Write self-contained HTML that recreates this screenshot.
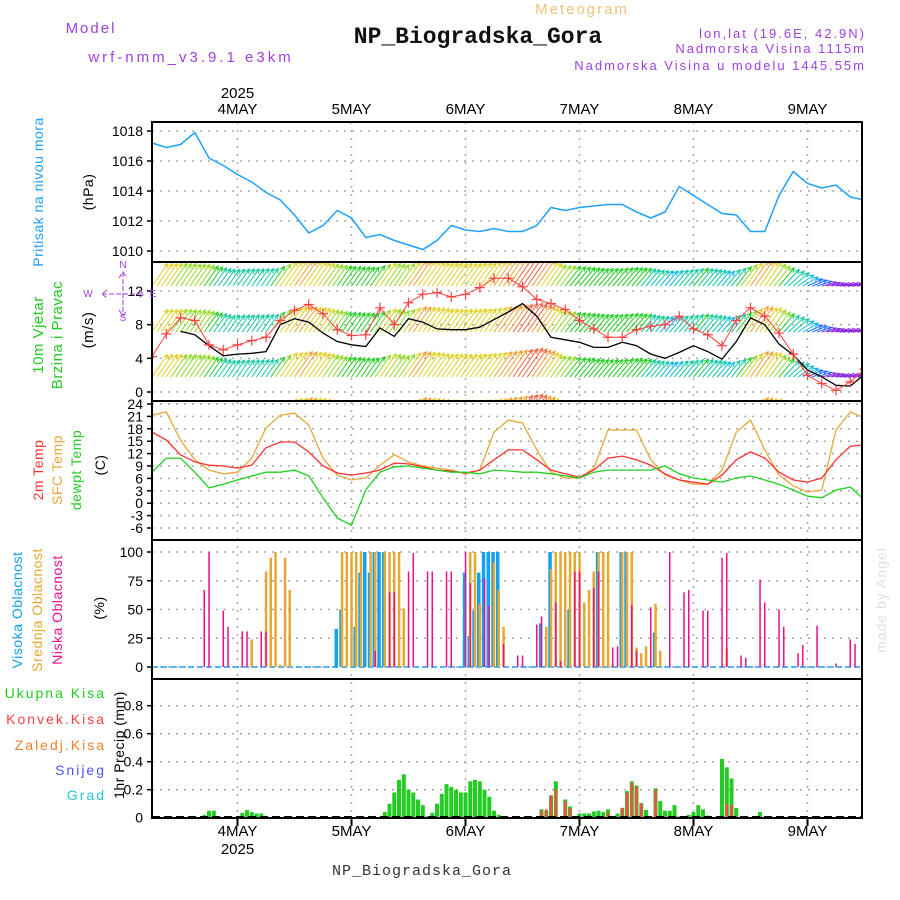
<!DOCTYPE html>
<html><head><meta charset="utf-8">
<style>
body{margin:0;background:#fff;}
svg{display:block;font-family:"Liberation Sans",sans-serif;}
</style></head>
<body>
<svg id="chart" width="900" height="900" viewBox="0 0 900 900">
<text x="582" y="14" font-size="15" fill="#f2c27a" text-anchor="middle" letter-spacing="2">Meteogram</text>
<text x="478" y="43" font-size="23" font-weight="bold" font-family="Liberation Mono, monospace" text-anchor="middle" fill="#111">NP_Biogradska_Gora</text>
<text x="91" y="33" font-size="15" fill="#a040e0" text-anchor="middle" letter-spacing="2">Model</text>
<text x="191" y="62" font-size="15" fill="#a040e0" text-anchor="middle" letter-spacing="3">wrf-nmm_v3.9.1 e3km</text>
<text x="866" y="38" font-size="13" fill="#a040e0" text-anchor="end" letter-spacing="2">lon,lat (19.6E, 42.9N)</text>
<text x="866" y="53" font-size="13" fill="#a040e0" text-anchor="end" letter-spacing="2">Nadmorska Visina 1115m</text>
<text x="866" y="70" font-size="13" fill="#a040e0" text-anchor="end" letter-spacing="2">Nadmorska Visina u modelu 1445.55m</text>
<text x="422" y="875" font-size="15" font-family="Liberation Mono, monospace" fill="#333" text-anchor="middle" letter-spacing="1">NP_Biogradska_Gora</text>
<text transform="translate(886,600) rotate(-90)" font-size="14" fill="#d8e4dc" text-anchor="middle" letter-spacing="1">made by Angel</text>
<g id="plots"></g>
</svg>
<script>
// ---- data (3-hourly from 3 May 06Z) ----
const pressure=[1017.2,1016.9,1017.1,1017.9,1016.2,1015.7,1015.1,1014.6,1013.9,1013.4,1012.4,1011.2,1011.7,1012.7,1012.2,1010.9,1011.1,1010.7,1010.4,1010.1,1010.7,1011.7,1011.4,1011.3,1011.5,1011.3,1011.3,1011.7,1012.9,1012.7,1012.9,1013.0,1013.1,1013.1,1012.6,1012.2,1012.6,1014.3,1013.7,1013.1,1012.5,1012.4,1011.3,1011.3,1013.7,1015.3,1014.5,1014.2,1014.4,1013.6,1013.4];
const windSpeed=[7.3,7.3,7.2,6.8,5.5,4.3,4.5,4.6,4.8,8.0,8.7,8.3,7.0,6.0,5.6,5.4,7.6,6.6,8.7,8.3,7.5,7.4,7.4,7.7,8.6,9.5,10.5,9.0,6.5,6.2,5.9,5.3,5.3,5.9,5.5,4.5,4.0,4.7,5.5,4.8,3.9,6.0,8.8,8.0,5.7,4.4,2.6,1.8,0.8,0.7,2.1];
const windGust=[4.2,6.9,8.8,8.5,5.6,5.0,5.6,6.1,6.5,8.5,9.7,10.4,9.3,7.4,6.7,6.8,10.0,8.0,10.6,11.6,11.8,11.3,11.6,12.4,13.5,13.5,12.5,11.0,10.5,9.8,8.5,7.5,6.5,6.5,7.4,7.8,8.0,9.0,7.5,6.8,5.5,8.5,10.0,9.0,7.0,4.5,2.0,1.0,0.2,1.2,2.7];
const windDir=[55,55,55,55,55,55,55,55,55,55,55,55,55,55,55,55,55,55,55,55,55,55,55,55,55,55,55,55,55,52,50,50,50,50,50,50,50,50,50,50,50,52,55,55,50,40,25,15,10,12,15];
const temp2m=[17.2,15.3,11.7,10.0,9.2,9.0,8.5,9.2,13.4,14.8,14.8,12.4,9.0,7.3,6.8,7.3,8.0,9.7,9.5,8.8,8.0,7.8,7.3,8.0,10.5,12.9,12.9,10.5,8.0,7.1,6.3,8.0,10.9,11.4,10.5,9.2,7.1,5.6,5.1,4.6,6.8,10.5,12.4,10.9,7.5,5.6,5.1,6.1,10.5,13.8,14.1];
const tempSfc=[21.3,22.1,15.3,10.5,8.0,7.1,7.5,10.9,18.2,21.3,21.8,18.9,10.9,6.8,5.6,6.1,9.2,11.7,10.0,9.0,8.5,8.0,7.1,8.0,17.2,20.1,19.4,12.9,7.5,6.1,6.1,8.5,17.7,17.7,17.7,10.5,6.8,5.6,4.6,4.6,8.0,17.2,20.1,12.9,6.8,4.2,2.7,3.2,17.7,22.1,20.6];
const dewpoint=[7.5,10.9,10.9,7.5,3.7,4.6,5.6,6.6,7.5,7.5,8.0,6.6,1.3,-3.6,-5.3,3.2,7.5,8.8,9.0,8.5,8.0,7.5,7.5,7.1,8.0,7.8,7.5,7.5,7.1,6.6,6.1,7.5,8.0,8.0,8.0,8.0,9.0,7.1,6.1,5.6,5.1,6.1,6.6,5.6,4.6,3.2,1.7,1.3,3.2,3.9,0.8];
// cloud cover (hour index, percent)
const lowHours=[11,12,15,16,19,20,23,24,47,50,51,54,55,58,59,62,63,66,67,70,71,74,77,78,81,82,85,86,89,90,93,94,97,98,101,102,105,109,112,113,116,117,120,121,124,125,128,129,132,133,136,137,140,144,147,148];
const lowVals=[67,100,49,35,31,31,31,31,14,65,65,83,99,83,83,83,83,100,73,77,53,20,10,10,37,44,56,5,83,83,69,83,17,18,54,14,52,100,65,67,49,49,95,99,10,8,76,56,50,35,12,19,36,3,24,20];
const midHours=[21,24,25,26,27,28,29,40,41,42,43,44,46,47,49,50,51,52,53,67,68,69,72,73,74,83,84,85,86,87,88,89,90,91,92,93,94,95,96,97,99,100,101,102,103,104,106,107,121];
const midVals=[24,83,95,100,2,95,67,100,100,100,100,100,100,100,100,100,100,100,51,100,100,55,91,67,35,35,85,100,100,100,100,100,100,56,67,83,100,100,100,2,100,100,100,17,12,18,55,14,16];
const highHours=[39,40,43,44,45,46,47,48,49,66,67,68,69,70,71,72,73,82,84,88,94,99,100,106];
const highVals=[33,50,35,82,100,82,100,100,100,82,27,49,82,100,100,100,100,38,100,50,100,100,100,30];
// precipitation (hour index, mm)
const precipHours=[11,12,13,14,19,20,21,22,23,24,49,50,51,52,53,54,55,56,57,58,59,60,61,62,63,64,65,66,67,68,69,70,71,72,73,82,83,84,85,87,88,89,90,91,92,93,94,95,96,97,98,99,100,101,102,103,104,106,107,108,109,110,111,113,114,115,116,117,120,121,122,123,128,140];
const precipTotal=[0.02,0.05,0.05,0.01,0.035,0.055,0.04,0.03,0.03,0.01,0.04,0.1,0.18,0.27,0.31,0.2,0.18,0.13,0.09,0.01,0.035,0.1,0.17,0.24,0.22,0.2,0.18,0.18,0.26,0.27,0.26,0.2,0.15,0.05,0.02,0.06,0.05,0.16,0.26,0.13,0.08,0.01,0.03,0.03,0.03,0.045,0.05,0.04,0.06,0.01,0.03,0.07,0.19,0.26,0.23,0.105,0.055,0.21,0.12,0.05,0.05,0.09,0.01,0.02,0.04,0.09,0.06,0.015,0.42,0.36,0.28,0.07,0.04,0.01];
const precipConv=[0,0,0,0,0,0,0,0,0,0,0,0,0,0,0,0,0,0,0,0,0,0,0,0,0,0,0,0,0,0,0,0,0,0,0,0.05,0.06,0.16,0.2,0.12,0.07,0,0,0,0,0,0,0,0.04,0,0,0.07,0.18,0.25,0.22,0.1,0,0.2,0.01,0.01,0,0,0,0,0,0,0,0,0,0.1,0.09,0.01,0,0];
const dayLabels=["4MAY","5MAY","6MAY","7MAY","8MAY","9MAY"];
const dayHours=[18,42,66,90,114,138];
const pTicks=[1010,1012,1014,1016,1018];
const wTicks=[0,4,8,12];
const tTicks=[24,21,18,15,12,9,6,3,0,-3,-6];
const cTicks=[0,25,50,75,100];
const rTicks=[0.2,0.4,0.6,0.8];

const NS="http://www.w3.org/2000/svg";
const root=document.getElementById('plots');
const X0=152,X1=862;
const xH=h=>X0+h*4.75;
const x3=i=>xH(i*3);
const P={p:[122,262],w:[262,401],t:[401,540],c:[540,679],r:[679,818]};
const yP=v=>251-(v-1010)*15;
const yW=v=>392-v*8.42;
const yT=v=>404+(24-v)*4.133;
const yC=v=>667-v*1.15;
const yR=v=>817.7-v*140;
function mk(tag,attrs,parent){const e=document.createElementNS(NS,tag);for(const k in attrs)e.setAttribute(k,attrs[k]);(parent||root).appendChild(e);return e;}
function txt(s,attrs,parent){const e=mk('text',attrs,parent);e.textContent=s;return e;}

const defs=mk('defs',{});
for(const k in P){const cp=mk('clipPath',{id:'clip-'+k},defs);mk('rect',{x:X0,y:P[k][0],width:X1-X0,height:P[k][1]-P[k][0]},cp);}

function hgrid(vals,f,name){for(const v of vals){const g=mk('line',{x1:X0,x2:X1,y1:f(v),y2:f(v),stroke:'#aaa','stroke-width':1.5,'stroke-dasharray':'2,6'});

}}
hgrid(pTicks,yP,'pressure');hgrid(wTicks,yW,'wind');hgrid(tTicks,yT,'temp');hgrid(cTicks,yC,'cloud');hgrid(rTicks,yR,'precip');
for(const h of dayHours){const g=mk('line',{x1:xH(h),x2:xH(h),y1:122,y2:818,stroke:'#aaa','stroke-width':1.5,'stroke-dasharray':'2,6'});

}

function yticks(vals,f,name,fmt){for(const v of vals){const t=txt(fmt?fmt(v):String(v),{x:143,y:f(v)+5,'font-size':14,'text-anchor':'end',fill:'#000'});


const l=mk('line',{x1:X0-5,x2:X0,y1:f(v),y2:f(v),stroke:'#000','stroke-width':1.5});

}}
yticks(pTicks,yP,'pressure');yticks(wTicks,yW,'wind');yticks(tTicks,yT,'temp');yticks(cTicks,yC,'cloud');yticks(rTicks,yR,'precip');
{const t=txt('0',{x:143,y:yR(0)+5,'font-size':14,'text-anchor':'end'});}

function series(arr,xf,yf,color,clip,name,w){let d='';let pen=false;arr.forEach((v,i)=>{if(v==null){pen=false;return;}d+=(pen?'L':'M')+xf(i).toFixed(1)+','+yf(v).toFixed(1);pen=true;});
const p=mk('path',{d:d,fill:'none',stroke:color,'stroke-width':w||1.3,'clip-path':'url(#clip-'+clip+')'});

return p;}
series(pressure,x3,yP,'#1ea0ff','p','pressure-line',1.5);

function spdColor(s){if(s<2)return'#8a2be2';if(s<3)return'#1e6cff';if(s<4.3)return'#10b8e0';if(s<5.3)return'#10c8a0';if(s<6.3)return'#22cc22';if(s<7.3)return'#90d820';if(s<8.5)return'#e0d020';if(s<9.8)return'#f0a030';if(s<11)return'#f06040';return'#ff1080';}
function interp(arr,h){const i=Math.min(Math.floor(h/3),arr.length-2);const f=h/3-i;return arr[i]*(1-f)+arr[i+1]*f;}
const rowBase=[286,332,377,423];
const wg=mk('g',{'clip-path':'url(#clip-w)'});
for(let r=0;r<4;r++){for(let h=0;h<=150;h++){const s=interp(windSpeed,h),a=interp(windDir,h)*Math.PI/180;const L=10+2.4*s;const x=xH(h),y=rowBase[r];const x2=x+L*Math.cos(a),y2=y-L*Math.sin(a);const c=spdColor(s);
const ar=mk('path',{d:`M${x.toFixed(1)},${y}L${x2.toFixed(1)},${y2.toFixed(1)}M${(x2-5*Math.cos(a-0.45)).toFixed(1)},${(y2+5*Math.sin(a-0.45)).toFixed(1)}L${x2.toFixed(1)},${y2.toFixed(1)}L${(x2-5*Math.cos(a+0.45)).toFixed(1)},${(y2+5*Math.sin(a+0.45)).toFixed(1)}`,stroke:c,'stroke-width':1,fill:'none'},wg);

}}
series(windSpeed.map((v,i)=>i<2?null:v),x3,yW,'#000','w','wind-speed-line',1.3);
series(windGust,x3,yW,'#ff4040','w','wind-gust-line',1);
const gg=mk('g',{'clip-path':'url(#clip-w)'});
windGust.forEach((v,i)=>{const x=x3(i),y=yW(v);const m=mk('path',{d:`M${x-5},${y}H${x+5}M${x},${y-5}V${y+5}`,stroke:'#ff4040','stroke-width':1.2},gg);

});

series(tempSfc,x3,yT,'#e8a838','t','sfc-temp-line',1.3);
series(temp2m,x3,yT,'#ff3030','t','temp-2m-line',1.3);
series(dewpoint,x3,yT,'#20d020','t','dewpoint-line',1.3);

function bars(hours,vals,color,w,off,name,yf,clip){const g=mk('g',{'clip-path':'url(#clip-'+clip+')'});hours.forEach((h,i)=>{const x=xH(h)+off,y=yf(vals[i]);const b=mk('rect',{x:(x-w/2).toFixed(1),y:y.toFixed(1),width:w,height:(yf(0)-y).toFixed(1),fill:color},g);

});}
mk('line',{x1:X0,x2:X1,y1:yC(0),y2:yC(0),stroke:'#1ea0ff','stroke-width':1.5,'stroke-dasharray':'6,3'});
bars(highHours,highVals,'#12a0f0',3.5,-1,'high-cloud-bar',yC,'c');
bars(midHours,midVals,'#e6a830',2.5,0,'mid-cloud-bar',yC,'c');
bars(lowHours,lowVals,'#f0108a',1.5,0,'low-cloud-bar',yC,'c');

bars(precipHours,precipTotal,'#22cc22',4,0,'precip-total-bar',yR,'r');
bars(precipHours,precipConv,'#ff4848',2.5,0,'precip-convective-bar',yR,'r');
mk('line',{x1:X0,x2:X1,y1:817,y2:817,stroke:'#000','stroke-width':2,'stroke-dasharray':'8,4'});

for(const k in P){const f=mk('rect',{x:X0,y:P[k][0],width:X1-X0,height:P[k][1]-P[k][0],fill:'none',stroke:'#000','stroke-width':2});

}

dayLabels.forEach((d,i)=>{for(const y of [114,836]){const t=txt(d,{x:xH(dayHours[i]),y:y,'font-size':15,'text-anchor':'middle',fill:'#000'});

}
const tk=mk('line',{x1:xH(dayHours[i]),x2:xH(dayHours[i]),y1:818,y2:826,stroke:'#000','stroke-width':2});

});
for(const y of [98,854]){const t=txt('2025',{x:xH(18),y:y,'font-size':15,'text-anchor':'middle',fill:'#000'});}

function vlab(s,x,y,color,size,name){const t=txt(s,{transform:`translate(${x},${y}) rotate(-90)`,'font-size':size||14,'text-anchor':'middle',fill:color,'letter-spacing':0.5});

}
vlab('Pritisak na nivou mora',43,192,'#1ea0ff',14,'pressure-title');
vlab('(hPa)',93,192,'#000',14,'pressure-unit');
vlab('10m Vjetar',43,335,'#22cc22',15,'wind-title');
vlab('Brzina i Pravac',62,335,'#22cc22',15,'wind-subtitle');
vlab('(m/s)',93,330,'#000',15,'wind-unit');
vlab('2m Temp',43,470,'#ff3030',14,'temp-2m-title');
vlab('SFC Temp',62,470,'#e8a838',14,'sfc-temp-title');
vlab('dewpt Temp',81,470,'#22cc22',14,'dewpoint-title');
vlab('(C)',105,465,'#000',14,'temp-unit');
vlab('Visoka Oblacnost',22,610,'#12a0f0',14,'high-cloud-title');
vlab('Srednja Oblacnost',42,610,'#e6a830',14,'mid-cloud-title');
vlab('Niska Oblacnost',62,610,'#f0108a',14,'low-cloud-title');
vlab('(%)',104,608,'#000',14,'cloud-unit');
vlab('1hr Precip (mm)',124,745,'#000',14,'precip-title');
[['Ukupna Kisa','#22cc22',698],['Konvek.Kisa','#ff4040',724],['Zaledj.Kisa','#f08030',750],['Snijeg','#5050ff',775],['Grad','#20c8c8',800]].forEach(([s,c,y])=>{const t=txt(s,{x:106,y:y,'font-size':14,'text-anchor':'end',fill:c,'letter-spacing':2});

});
const cg=mk('g',{fill:'#a040e0','font-size':10,'text-anchor':'middle'});


txt('N',{x:123,y:268},cg);txt('S',{x:123,y:321},cg);txt('W',{x:88,y:297},cg);txt('E',{x:153,y:297},cg);
mk('path',{d:'M123,272V316M102,294H144M119,278L123,272L127,278M119,310L123,316L127,310M107,290L102,294L107,298M139,290L144,294L139,298',stroke:'#a040e0','stroke-width':1,fill:'none','stroke-dasharray':'5,2'},cg);
</script>
</body></html>
